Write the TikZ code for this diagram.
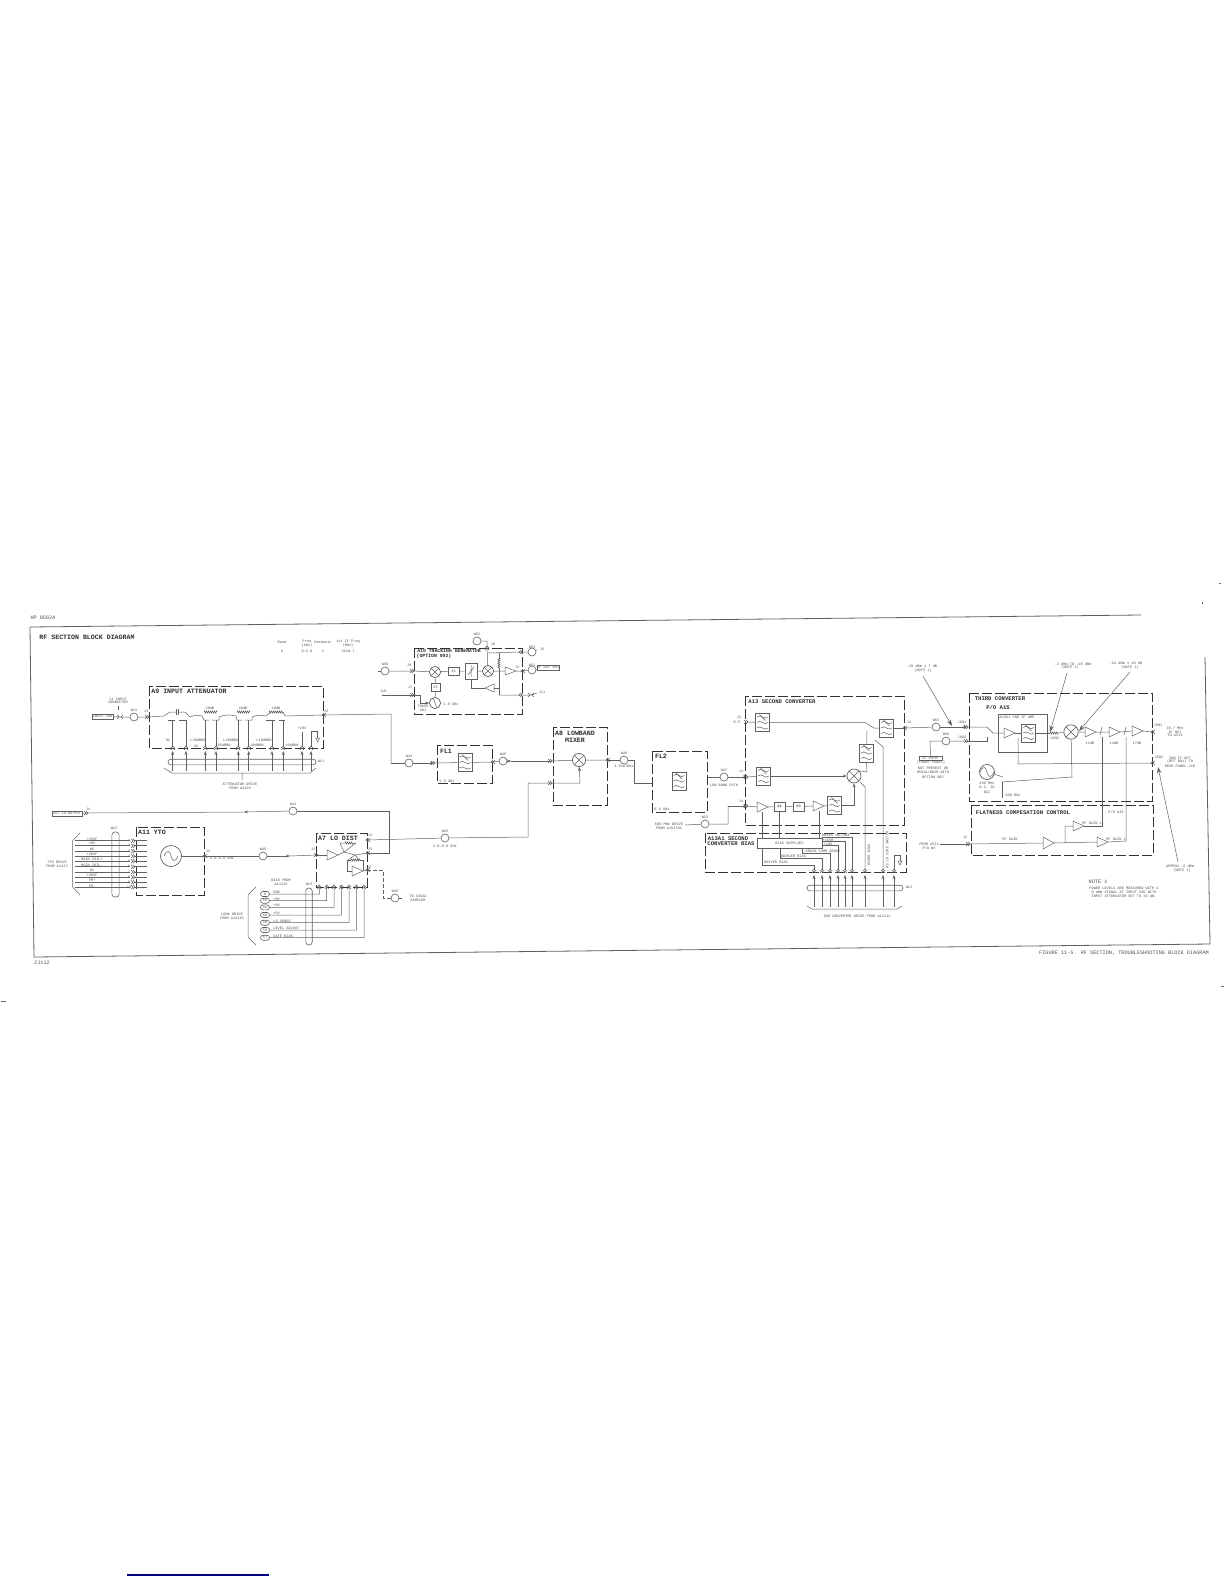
\documentclass[tikz,border=0pt]{standalone}
\usepackage{fontspec}
\setmainfont{Liberation Mono}
\usetikzlibrary{arrows.meta,shapes.misc,decorations.pathmorphing,calc}
\definecolor{lc}{gray}{0.38}
\definecolor{tc}{gray}{0.18}
\definecolor{tl}{gray}{0.32}
\newcommand\fsa{\fontsize{1.8}{2}\selectfont}
\newcommand\fsb{\fontsize{2.6}{3}\selectfont}
\newcommand\fsc{\fontsize{3.3}{4}\bfseries\selectfont}
\newcommand\fsd{\fontsize{2.8}{3}\bfseries\selectfont}
\newcommand\fse{\fontsize{2.4}{3}\bfseries\selectfont}
\newcounter{tn}
\newcommand\lbla[3]{\stepcounter{tn}\node[tx,text=tl,font=\fsa] (t\arabic{tn}) at (#1,#2) {#3};}
\newcommand\lblb[3]{\stepcounter{tn}\node[tx,text=tl,font=\fsb] (t\arabic{tn}) at (#1,#2) {#3};}
\newcommand\lblc[3]{\stepcounter{tn}\node[tx,font=\fsc] (t\arabic{tn}) at (#1,#2) {#3};}
\newcommand\lbld[3]{\stepcounter{tn}\node[tx,font=\fsd] (t\arabic{tn}) at (#1,#2) {#3};}
\newcommand\lble[3]{\stepcounter{tn}\node[tx,font=\fse] (t\arabic{tn}) at (#1,#2) {#3};}
\newcommand\lblr[3]{\stepcounter{tn}\node[tx,text=tl,font=\fsa,rotate=90] (t\arabic{tn}) at (#1,#2) {#3};}
% ports: double chevrons
\newcommand\portR[3]{\coordinate (#1) at (#2,#3);\draw[wire] (#1)++(-3,-2)--++(2,2)--++(-2,2) (#1)++(-1,-2)--++(2,2)--++(-2,2);}
\newcommand\portL[3]{\coordinate (#1) at (#2,#3);\draw[wire] (#1)++(3,-2)--++(-2,2)--++(2,2) (#1)++(1,-2)--++(-2,2)--++(2,2);}
\newcommand\portU[3]{\coordinate (#1) at (#2,#3);\draw[wire] (#1)++(-2,3)--++(2,-2)--++(2,2) (#1)++(-2,1)--++(2,-2)--++(2,2);}
\newcommand\portX[3]{\coordinate (#1) at (#2,#3);\draw[wire] (#1)++(-3,-2)--++(2,2)--++(-2,2) (#1)++(3,-2)--++(-2,2)--++(2,2);}
% cable with label above
\newcommand\cab[4]{\node[cable] (#1) at (#2,#3) {};\lbla{#2}{\the\numexpr#3-7\relax}{#4}}
% amplifiers
\newcommand\AmpR[4][5]{\coordinate (#2-in) at (#3,#4);\coordinate (#2-out) at ($(#3,#4)+(11,0)$);\draw[wire,fill=white] (#3,#4)++(0,-#1)--++(11,#1)--++(-11,#1)--cycle;}
\newcommand\AmpL[3]{\coordinate (#1-in) at (#2,#3);\coordinate (#1-out) at ($(#2,#3)+(-9,0)$);\draw[wire,fill=white] (#2,#3)++(0,-4)--++(-9,4)--++(9,4)--cycle;}
\newcommand\DB[5]{\coordinate (#1-nw) at (#2,#3);\coordinate (#1-se) at (#4,#5);\draw[dbox] (#1-nw) rectangle (#1-se);}
\newcommand\gnd[2]{\draw[wire] (#1-2,#2)--(#1+2,#2)--(#1,#2+4)--cycle;}
\tikzset{
 x=0.5pt,y=-0.5pt,
 wire/.style={draw=lc,line width=0.25pt},
 arr/.style={wire,-{Stealth[length=2pt,width=1.5pt]}},
 bigarr/.style={draw=lc,line width=0.25pt,-{Stealth[length=3.2pt,width=2.2pt]}},
 dbox/.style={draw=black!80,line width=0.45pt,dash pattern=on 5pt off 1.5pt},
 tx/.style={inner sep=0,text=tc},
 cable/.style={circle,draw=lc,line width=0.3pt,fill=white,minimum size=4pt,inner sep=0},
 bx/.style={rectangle,draw=lc,line width=0.3pt,fill=white,inner sep=0,text=tl},
 oval/.style={rounded rectangle,draw=lc,line width=0.3pt,inner sep=0},
 ovalv/.style={rectangle,rounded corners=1.5pt,draw=lc,line width=0.3pt,inner sep=0},
 res/.style={wire,decorate,decoration={zigzag,segment length=1pt,amplitude=.5pt}},
 mixer/.style={circle,draw=lc,line width=0.35pt,fill=white,minimum size=#1pt,inner sep=0,
   path picture={\draw[wire] (path picture bounding box.north west)--(path picture bounding box.south east)
     (path picture bounding box.north east)--(path picture bounding box.south west);}},
 osc/.style={circle,draw=lc,line width=0.35pt,fill=white,minimum size=#1pt,inner sep=0,
   path picture={\begin{scope}[shift={(path picture bounding box.center)},scale=#1/10]
     \draw[wire] (-7,0) .. controls (-4,-7) and (-1,-5) .. (0,0) .. controls (1,5) and (4,7) .. (7,0);
     \end{scope}}},
 filt/.style={rectangle,draw=lc,line width=0.3pt,fill=white,minimum width=7.2pt,minimum height=9pt,inner sep=0,
   path picture={\begin{scope}[shift={(path picture bounding box.center)}]
     \foreach \yy in {-5.5,0,5.5}{\draw[wire] (-5.5,\yy) .. controls (-2,\yy-4) and (2,\yy+4) .. (5.5,\yy);}
     \draw[wire] (-3,-8)--(3,-2);
     \end{scope}}},
}
\begin{document}
\begin{tikzpicture}
\useasboundingbox (0,0) rectangle (1224,1584);
\fill[white] (0,0) rectangle (1224,1584);
% page marks and frame
\draw[draw=lc,line width=0.4pt] (30,627)--(1141,615);
\draw[draw=lc,line width=0.4pt] (30,627)--(34,957)--(1210,944)--(1205,657);
\draw[draw=black!60,line width=0.4pt] (1219,583)--(1221,583) (1202,602)--(1202,604) (1,1001)--(6,1001) (1221,986)--(1224,986);
\draw[draw=blue!50!black,line width=0.6pt] (127,1575)--(269,1575);
\lblb{43}{618}{HP 8562A}
\lblb{42}{963}{2J112}
\lblc{87}{637}{RF SECTION BLOCK DIAGRAM}
\lblb{1124}{953}{FIGURE 11-5. RF SECTION, TROUBLESHOOTING BLOCK DIAGRAM}
% table
\lbla{282}{642}{Band}\lbla{307}{642}{Freq}\lbla{307}{646}{(GHz)}\lbla{323}{642}{Harmonic}
\lbla{348}{642}{1st IF Freq}\lbla{348}{646}{(MHz)}\lbla{282}{651}{6}\lbla{307}{651}{0-2.9}\lbla{323}{651}{1}\lbla{348}{651}{3910.7}
% ---------- A9 ----------
\DB{a9}{149}{686}{323}{748}
\lblc{189}{691}{A9 INPUT ATTENUATOR}
\node[bx,minimum width=10.5pt,minimum height=2.7pt,font=\fsa] (inbox) at (102.5,716.5) {INPUT 50Ω};
\lbla{118}{699}{J1 INPUT}\lbla{118}{702}{CONNECTOR}
\coordinate (j1lead) at (118,710);\draw[wire] (118,706)--(j1lead);
\portX{cn41}{120}{717}
\cab{w41}{134}{717}{W41}
\portR{j1}{148}{717}\lbla{146}{711}{J1}
\draw[wire] (inbox)--(cn41) (cn41)--(w41) (w41)--(j1);
\coordinate (s1l) at (164,716);
\draw[wire] (j1)--(s1l);
% section 1 DC
\coordinate (s1r) at (190,717);
\draw[wire] (s1l)--(170,712)--(175.8,712) (178.2,712)--(185,712)--(s1r);
\draw[wire] (175.8,709)--(175.8,715) (178.2,709)--(178.2,715);
\draw[wire] (168,720)--(175,720) (179,720)--(187,720);
% section 2
\coordinate (s2l) at (202,716);\coordinate (s2r) at (219,717);
\draw[wire,bend left=18] (s1r) to (s2l);
\draw[res] (204,712)--(217,712);\lbla{210}{708}{20dB}
\draw[wire] (s2l)--(204,720)--(209,720) (212,720)--(219,720)--(s2r);
% section 3
\coordinate (s3l) at (236,716);\coordinate (s3r) at (252,717);
\draw[wire,bend left=18] (s2r) to (s3l);
\draw[res] (237,712)--(250,712);\lbla{243}{708}{40dB}
\draw[wire] (s3l)--(237,720)--(242,720) (245,720)--(252,720)--(s3r);
% section 4
\coordinate (s4l) at (266,716);\coordinate (s4r) at (285,716);
\draw[wire,bend left=18] (s3r) to (s4l);
\draw[res] (269,712)--(283,712);\lbla{276}{708}{10dB}
\draw[wire] (s4l)--(271,712)(283,712)--(s4r);
\draw[wire] (266,720)--(275,720) (279,720)--(285,720);
\portL{j2a9}{323}{715}\lbla{326}{711}{J2}
\draw[wire] (s4r)--(j2a9);
% control ports
\foreach \px/\tp/\nn in {172.7/720/1,186/720/2,205.3/720/3,216/720/4,238.3/720/5,248.7/720/6,272/720/7,283.3/720/8,302/732/9,311/731/10}{
  \portU{pa\nn}{\px}{747}
  \draw[wire] (\px,\tp)--(pa\nn);
  \coordinate (pb\nn) at (\px,771);
  \draw[arr] (pb\nn)--(\px,751);
}
\draw[wire] (311,731)--(317.7,731)--(317.7,738);\gnd{317.7}{738}
\lbla{168}{740}{DC}\lbla{196}{746}{AC}\lbla{198}{740}{L20dBRN}\lbla{224}{745}{20dBRN}
\lbla{231}{740}{L40dBRN}\lbla{257}{745}{40dBRN}\lbla{264}{740}{L10dBRN}\lbla{292}{745}{10dBRN}\lbla{302}{728}{+28V}
\node[oval,minimum width=74pt,minimum height=2.8pt] (w11) at (242,762) {};
\lbla{321}{761}{W11}
\coordinate (atbr) at (242,773);
\draw[wire] (164,768)--(172,773)--(310,773)--(316,768) (atbr)--(242,780);
\lbla{240}{784}{ATTENUATOR DRIVE}\lbla{240}{788}{FROM A14J8}
% ---------- A10 ----------
\DB{a10}{414}{648}{522}{714}
\lble{449}{651}{A10 TRACKING GENERATOR}\lble{434}{656}{(OPTION 002)}
\cab{w50}{385}{671}{W50}
\coordinate (w50s) at (378,671);\draw[wire] (w50s)--(w50);
\portR{j9}{413}{671}\lbla{409}{665}{J9}
\node[mixer=5.6] (m10a) at (435,672) {};
\draw[wire] (w50)--(j9) (j9)--(m10a);
\node[bx,minimum width=5.6pt,minimum height=4pt,font=\fsa] (xa) at (453.5,671) {X5};
\node[bx,minimum width=6pt,minimum height=8pt] (sw10) at (471,671) {};
\draw[wire] (471,665)--(471,677) (468,675)--(474,667);
\node[mixer=5.6] (m10b) at (488,671) {};
\draw[wire] (m10a)--(xa) (xa)--(sw10) (sw10)--(m10b);
\AmpR[4]{a10a}{505}{671}
\portL{j10o}{522}{671}\lbla{517}{667}{J2}
\node[cable] (w51) at (532,670) {};\lbla{532}{665}{W51}
\node[bx,minimum width=9pt,minimum height=2.6pt,font=\fsa] (rfout) at (548,667.5) {RF OUT 50Ω};
\draw[wire] (m10b)--(a10a-in) (a10a-out)--(j10o) (j10o)--(w51) (w51)--(rfout);
\cab{w52}{477}{641}{W52}
\portU{j8}{487}{647}\lbla{493}{644}{J8}
\draw[wire] (w52)--(487,641)--(j8) (j8)--(m10b);
\portL{j10t}{520}{652}
\node[cable] (w53) at (532,652) {};\lbla{532}{647}{W53}
\coordinate (t10) at (537,650);\lbla{542}{649}{J5}
\draw[wire] (488,653)--(j10t) (j10t)--(w53) (w53)--(t10);
\draw[wire] (499,653)--(499,658);\draw[res] (499,658)--(499,668);
\draw[wire] (499,668)--(499,695);
\AmpL{a10b}{494}{688}
\draw[wire] (499,688)--(a10b-in) (a10b-out)--(471,688)--(sw10.south);
\portL{j10b}{520}{695}\portX{cn10}{531}{695}\coordinate (t11) at (537,693);\lbla{542}{692}{J11}
\draw[wire] (499,695)--(j10b) (j10b)--(cn10) (cn10)--(t11);
\coordinate (s10) at (382,695);\lbla{383}{691}{J10}
\portR{j7}{413}{695}\lbla{410}{687}{J7}
\node[osc=5.6] (o10) at (435,703) {};
\lbla{451}{704}{2.9 GHz}
\draw[wire] (s10)--(j7);
\draw[arr] (j7)--(420,695)--(420,703)--(o10);
\lbla{423}{706}{TRACK}\lbla{423}{710}{ADJ}
\node[bx,minimum width=4.7pt,minimum height=4pt,font=\fsa] (xb) at (435.5,687) {X5};
\draw[wire] (m10a)--(xb) (xb)--(o10);
% ---------- FL1 ----------
\draw[wire] (j2a9)--(391,714)--(391,763);
\cab{w44}{409}{763}{W44}
\portR{fl1i}{434}{763}
\draw[wire] (391,763)--(w44);\draw[arr] (w44)--(fl1i);
\DB{fl1}{437}{745}{492}{783}
\lblc{446}{751}{FL1}
\node[filt] (ff1) at (465,762.5) {};
\lbla{447}{781}{2.9 GHz}
\portL{fl1o}{492}{762}
\draw[wire] (fl1i)--(ff1) (ff1)--(fl1o);
\cab{w45a}{503}{761}{W45}
\portR{a8i}{551}{761}
\draw[wire] (fl1o)--(w45a);\draw[arr] (w45a)--(511,761);\draw[wire] (511,761)--(a8i);
% ---------- A8 ----------
\DB{a8}{553}{727}{607}{805}
\lblc{575}{733}{A8 LOWBAND}\lblc{575}{740}{MIXER}
\node[mixer=6.6] (m8) at (579,760) {};
\portR{a8l}{551}{783}
\portL{a8o}{607}{760}
\draw[wire] (a8i)--(m8) (m8)--(a8o);
\draw[arr] (a8l)--(580,783)--(m8);
\cab{w46}{624}{760}{W46}
\lbla{624}{766}{3.9107GHz}
\draw[wire] (a8o)--(w46) (w46)--(634,760)--(634,783)--(652,783);
% ---------- FL2 ----------
\DB{fl2}{652}{751}{707}{812}
\lblc{661}{756}{FL2}
\node[filt] (ff2) at (679,781) {};
\lbla{662}{809}{6.8 GHz}
\cab{w47}{724}{777}{W47}\lbla{724}{785}{LOW BAND PATH}
\portR{j1a13}{747}{777}\lbla{741}{771}{J1}
\coordinate (fl2o) at (707,777);
\draw[wire] (fl2o)--(w47);\draw[arr] (w47)--(j1a13);
% ---------- A11 YTO ----------
\node[bx,minimum width=15pt,minimum height=2.5pt,font=\fsa] (lobox) at (67,813.5) {1ST LO OUTPUT};
\portR{j4}{87}{813}\lbla{88}{809}{J4}
\draw[wire] (lobox)--(j4);
\DB{a11}{136}{827}{204}{895}
\lblc{152}{832}{A11 YTO}
\node[osc=10.5] (o11) at (171,856) {};
\portL{a11o}{204}{856}\lbla{208}{851}{J2}\lbla{222}{858}{3.0-6.8 GHz}
\draw[wire] (o11)--(a11o);
\cab{w45}{263}{856}{W45}
\portR{a7i}{317}{855}\lbla{313}{849}{J1}
\draw[wire] (a11o)--(w45);\draw[arr] (w45)--(290,856);\draw[wire] (290,856)--(a7i);
\node[ovalv,minimum width=3.6pt,minimum height=32.5pt] (w12) at (115.5,864.5) {};
\lbla{114}{828}{W12}
\foreach \yy/\nn/\tl/\ty in {840.7/1/+15VF/839,845.7/2/+8V/843.7,851.3/3/NC/849.3,856.3/4/+20VF/854.3,861.3/5/MAIN COIL+/859.3,866.7/6/MAIN COIL-/865,872/7/NC/870.3,877.3/8/+20VF/875.7,882.3/9/FM+/880.7,887.3/10/FM-/886}{
  \coordinate (ys\nn) at (75,\yy);
  \portR{yp\nn}{134}{\yy}
  \draw[wire] (ys\nn)--(130,\yy);
  \draw[wire] (yp\nn)--(147,\yy);
  \lbla{129}{\yy}{\nn}
  \lbla{92}{\ty}{\tl}
}
\draw[wire] (80,833)--(72.7,840.7)--(72.7,887)--(80,895);
\lbla{57}{862}{YTO DRIVE}\lbla{57}{866}{FROM A14J3}
% ---------- A7 ----------
\DB{a7}{316}{833}{367}{887}
\lblc{338}{838}{A7 LO DIST}
\AmpR{a7a}{327}{855}
\coordinate (a7x1) at (344,852);\coordinate (a7x2) at (355,855);
\draw[wire] (a7a-in)--(a7i);
\draw[wire] (a7a-out)--(a7x1)--(340,843)--(345,843);\draw[res] (345,843)--(353,843);\draw[wire] (353,843)--(356,843)--(a7x1);
\portL{a7j3}{367}{853}\lbla{370}{849}{J3}
\draw[wire] (a7x1)--(a7x2)--(a7j3);
\draw[wire] (a7x2)--(348,860) (a7x2)--(359,860);
\AmpR[5]{a7b}{352}{871}
\draw[wire] (a7b-in)--(347,871)--(347,860)--(351,860);\draw[res] (351,860)--(360,860);\draw[wire] (360,860)--(363,860)--(363,871);
\portL{a7j2}{367}{840}\lbla{370}{835}{J2}
\portL{a7j4}{367}{870}\lbla{369}{867}{J4}
\draw[wire] (a7b-out)--(a7j4);
\cab{w43}{293}{811}{W43}
\draw[wire] (a7j3)--(389,853)--(389,811)--(w43);
\draw[arr] (w43)--(244,812);\draw[wire] (244,812)--(j4);
\cab{w35}{445}{838}{W35}\lbla{445}{846}{3.0-6.8 GHz}
\draw[wire] (a7j2)--(w35) (w35)--(528,837)--(528,783)--(a8l);
\cab{w36}{395}{898}{W36}
\coordinate (toa) at (402,898);
\draw[wire,dash pattern=on 2pt off 1pt] (a7j4)--(383,870)--(383,898)--(w36);
\draw[wire] (w36)--(toa);\lbla{418}{896}{TO A15A2}\lbla{418}{900}{SAMPLER}
% A7 drive
\foreach \px/\yy/\lb/\tl/\nn in {319.3/894/8/GND/1,326.7/900.7/55/+8V/2,334/907.3/56/+8V/3,341.3/915/50/+5V/4,349/922.7/58/LO SENSE/5,356.3/930/59/LEVEL ADJUST/6,364/937.7/57/GATE BIAS/7}{
  \portU{dp\nn}{\px}{886}
  \node[bx,rounded rectangle,minimum width=4.5pt,minimum height=2.5pt,font=\fsa] (dn\nn) at (265,\yy) {\lb};
  \draw[wire] (dn\nn)--(\px,\yy)--(dp\nn);
  \stepcounter{tn}\node[tx,text=tl,font=\fsa,anchor=west] (t\arabic{tn}) at (273,\yy-1.5) {\tl};
}
\node[ovalv,minimum width=3.2pt,minimum height=28.5pt] (w13) at (309,916.5) {};
\lbla{309}{884}{W13}
\lbla{281}{880}{BIAS FROM}\lbla{281}{884}{A14J15}
\lbla{232}{914}{LODA DRIVE}\lbla{232}{918}{FROM A14J15}
\draw[wire] (256,887)--(248,895)--(248,937)--(256,945);
% ---------- A13 ----------
\DB{a13}{745}{696}{904}{825}
\lbld{782}{702}{A13 SECOND CONVERTER}
\lbla{739}{717}{J3}\lbla{738}{722}{R.F.}
\portR{j3a13}{747}{722}
\node[filt] (f13a) at (762.5,722.5) {};
\node[filt] (f13d) at (886.5,728) {};
\node[filt] (f13c) at (866.5,753) {};
\node[filt] (f13b) at (763.5,776) {};
\node[mixer=7] (m13) at (854,776) {};
\draw[wire] (j3a13)--(f13a);
\coordinate (s13a) at (865,722.5);\coordinate (s13b) at (874,728);\coordinate (s13c) at (867,731);
\draw[wire] (f13a)--(s13a) (s13a)--(s13b) (s13b)--(f13d);
\draw[wire] (f13c)--(s13c);
\draw[wire] (j1a13)--(f13b);
\draw[arr] (f13b)--(m13);
\draw[wire] (m13.north east)--(867,772)--(f13c.south);
\portL{j2a13}{904}{728}\lbla{909}{722}{J2}
\draw[wire] (f13d)--(j2a13);
\portR{j4a13}{747}{806}\lbla{741}{801}{J4}
\AmpR[5]{a13a}{757}{807}
\node[bx,minimum width=5.6pt,minimum height=4.6pt,font=\fsa\bfseries] (x2) at (779.5,806.5) {X2};
\node[bx,minimum width=5.6pt,minimum height=4.6pt,font=\fsa\bfseries] (x3) at (798.5,806.5) {X3};
\AmpR[5]{a13b}{813}{806}
\node[filt] (f13e) at (834.5,805.5) {};
\draw[wire] (j4a13)--(a13a-in) (a13a-out)--(x2) (x2)--(x3) (x3)--(a13b-in) (a13b-out)--(f13e);
\draw[arr] (f13e)--(854,805.5)--(m13);
\cab{w33}{705}{824}{W33}
\lbla{669}{824}{600 MHz DRIVE}\lbla{669}{828}{FROM A15J701}
\coordinate (w33s) at (685,825);
\draw[wire] (w33s)--(w33) (w33)--(728,824)--(728,806);
\draw[arr] (728,806)--(j4a13);
% ---------- A13A1 ----------
\DB{a131}{705}{833}{906}{872}
\lbld{728}{839}{A13A1 SECOND}\lbld{731}{844}{CONVERTER BIAS}
\node[bx,minimum width=32.5pt,minimum height=5pt,font=\fsa] (bs) at (789.5,843) {BIAS SUPPLIES};
\draw[wire] (762,812)--(762,838) (779.5,811)--(779.5,838) (819,811)--(819,838);
\foreach \px/\nn in {814/1,822/2,830/3,838/4,845/5,852/6,865/7,883/8,894/9}{
  \portU{bp\nn}{\px}{870}
  \coordinate (bb\nn) at (\px,907);
  \draw[arr] (bb\nn)--(\px,875);
}
\draw[wire] (762,848)--(762,865)--(814,865)--(bp1);
\draw[wire] (780,848)--(780,858)--(822,858)--(bp2);
\draw[wire] (802,848)--(802,853)--(830,853)--(bp3);
\draw[wire] (822,845)--(838,845)--(bp4);
\draw[wire] (822,841)--(845,841)--(bp5);
\draw[wire] (822,837)--(852,837)--(bp6);
\lbla{836}{835.5}{DRAIN VOLTAGE}\lbla{828}{840}{+15VR}\lbla{828}{844}{+10V}
\lbla{823}{851}{DRAIN CURR SENSE}\lbla{793}{856.5}{DOUBLER BIAS}\lbla{776}{862}{DRIVER BIAS}
\draw[wire] (860,782)--(865,787)--(bp7);
\draw[wire] (875,740)--(883,747)--(bp8);
\draw[wire] (bp9)--(894,855)--(900,855)--(900,861);\gnd{900}{861}
\lblr{869}{855}{MIXER BIAS}\lblr{887}{850}{HI/LO SIDE SWITCH}
\node[oval,minimum width=48pt,minimum height=2.8pt] (w13b) at (855,888) {};
\lbla{909}{887}{W13}
\coordinate (cvb) at (857,909);
\draw[wire] (807,906)--(812,909)--(897,909)--(902,906);
\lbla{857}{916}{2ND CONVERTER DRIVE FROM A14J12}
% ---------- third converter ----------
\cab{w55}{936}{727}{W55}
\portR{j601}{967}{727}\lbla{962}{722}{J601}
\draw[wire] (j2a13)--(w55);\draw[arr] (w55)--(j601);
\cab{w56}{946}{741}{W56}
\portR{j602}{967}{741}\lbla{962}{737}{J602}
\node[bx,minimum width=11.5pt,minimum height=2.2pt,font=\fsa] (ifbox) at (930.5,758) {1F INPUT};
\draw[wire] (ifbox.north)--(930,741)--(w56) (w56)--(j602);
\lbla{931}{763}{(FRONT PANEL)}\lbla{933}{768}{NOT PRESENT ON}\lbla{933}{772}{8562A/002B WITH}\lbla{933}{777}{OPTION 002}
\DB{c3}{969}{693}{1152}{801}
\lbld{1000}{699}{THIRD CONVERTER}\lbld{998}{707}{P/O A15}
\node[bx,minimum width=24.5pt,minimum height=19pt,fill=none] (a15a1) at (1022.5,733) {};
\lbla{1017}{717}{A15A1 2ND IF AMP}
\AmpR[5]{c3a}{1004}{733}
\node[filt] (f3) at (1028.5,733) {};
\draw[wire] (j601)--(987,727)--(993,733)--(c3a-in);
\draw[wire] (j602)--(987,741)--(987,737);
\draw[wire] (c3a-out)--(f3);
\node[mixer=7.2] (m3) at (1071,732) {};
\draw[wire] (f3)--(1050,733);\draw[res] (1050,733)--(1058,733);\draw[wire] (1058,733)--(m3);
\lbla{1055}{738}{U602}
\AmpR[5]{c3b}{1085}{732}\AmpR[5]{c3c}{1109}{732}\AmpR[5]{c3d}{1132}{731}
\lbla{1090}{743}{11dB}\lbla{1114}{743}{14dB}\lbla{1137}{743}{17dB}
\portL{c3o}{1152}{732}\lbla{1158}{725}{J601}
\lbla{1175}{728}{10.7 MHz}\lbla{1175}{732}{IF OUT}\lbla{1175}{735.5}{TO A5J3}
\draw[wire] (m3)--(c3b-in) (c3b-out)--(c3c-in) (c3c-out)--(c3d-in) (c3d-out)--(c3o);
\draw[wire] (1102,727)--(1100,735) (1126,727)--(1124,735);
\portL{j603}{1152}{763}\lbla{1159}{757}{J603}
\lbla{1180}{758}{2ND IF OUT}\lbla{1180}{762}{(OPT 001) TO}\lbla{1180}{766}{REAR PANEL J10}
\draw[wire] (1018,738)--(1018,764)--(j603);
\node[osc=7.5] (o3) at (987,772) {};
\lbla{987}{783}{298 MHz}\lbla{987}{787}{O.C. IO}\lbla{987}{792}{OCC}
\draw[wire] (o3)--(1003,777);
\draw[wire] (1002,782)--(1072,777)--(m3);
\draw[wire] (1002,782)--(1002,798);\lbla{1013}{795}{300 MHz}
% ---------- flatness ----------
\DB{fl}{971}{805}{1153}{855}
\lbld{1023}{813}{FLATNESS COMPESATION CONTROL}\lbla{1116}{812}{P/O A15}
\portR{fj}{969}{844}\lbla{965}{837}{J2}
\lbla{929}{844}{FROM A5J2}\lbla{929}{848}{P/O W3}
\coordinate (fs) at (940,844);
\draw[wire] (fs)--(fj);
\AmpR[6]{fa}{1043}{843}
\AmpR[5]{fb}{1097}{842}
\AmpR[5]{fc}{1073}{826}
\draw[wire] (fj)--(fa-in) (fa-out)--(fb-in) (1065,843)--(1065,826)--(fc-in);
\lbla{1010}{839}{RF GAIN}\lbla{1092}{823}{RF GAIN 1}\lbla{1116}{839}{RF GAIN 2}
\draw[wire] (fc-out)--(1102,826)--(1102,737);
\draw[wire] (fb-out)--(1126,841)--(1126,737);
% notes
\lbla{922}{666}{-28 dBm ± 7 dB}\lbla{923}{671}{(NOTE 1)}
\coordinate (n1) at (923,676);\coordinate (n1t) at (952,726);\draw[bigarr] (n1)--(n1t);
\lbla{1073}{664}{-2 dBm TO -28 dBm}\lbla{1070}{668}{(NOTE 1)}
\coordinate (n2) at (1067,673);\coordinate (n2t) at (1050,732);\draw[bigarr] (n2)--(n2t);
\lbla{1126}{663}{-24 dBm ± 10 dB}\lbla{1130}{668}{(NOTE 1)}
\coordinate (n3) at (1130,672);\coordinate (n3t) at (1079,731);\draw[bigarr] (n3)--(n3t);
\lbla{1180}{866}{APPROX -6 dBm}\lbla{1182}{871}{(NOTE 1)}
\coordinate (n4) at (1178,862);\coordinate (n4t) at (1158,767);\draw[bigarr] (n4)--(n4t);
\lblb{1098}{882}{NOTE 1}
\lbla{1124}{888}{POWER LEVELS ARE MEASURED WITH A}
\lbla{1124}{892}{0 dBm SIGNAL AT INPUT 50Ω WITH}
\lbla{1124}{896}{INPUT ATTENUATOR SET TO 10 dB.}
\end{tikzpicture}
\end{document}
